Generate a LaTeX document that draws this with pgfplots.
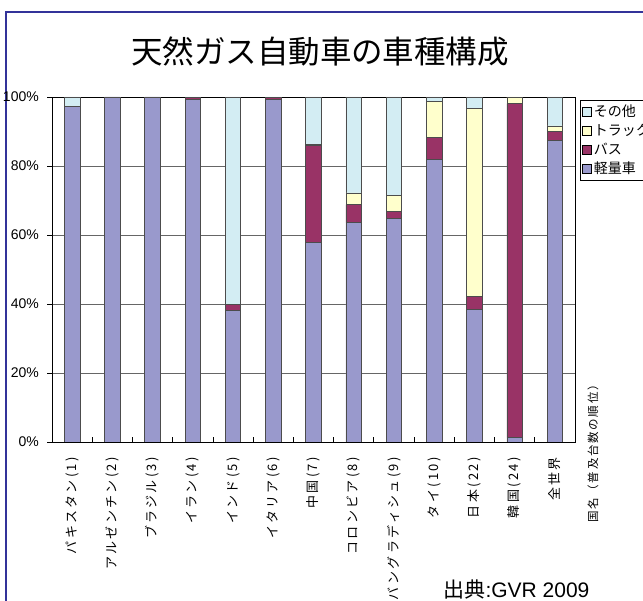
\documentclass[border=0pt]{standalone}
\usepackage{pgfplots}
\pgfplotsset{compat=1.18}
\usepackage{fontspec}
\setmainfont{Noto Sans CJK JP}
\newfontfamily\lat{Liberation Sans}
\newfontfamily\spaced[LetterSpace=15]{Noto Sans CJK JP}
\newfontfamily\spacedx[LetterSpace=18]{Noto Sans CJK JP}
\definecolor{frame}{HTML}{333399}
\definecolor{cLight}{HTML}{9999CC}
\definecolor{cBus}{HTML}{993366}
\definecolor{cTruck}{HTML}{FFFFCC}
\definecolor{cOther}{HTML}{D3EDF3}
\pgfplotstableread{
x light bus truck other
0 97.3 0 0 2.7
1 100 0 0 0
2 100 0 0 0
3 99.3 0.5 0 0.2
4 38.2 1.6 0 60.2
5 99.2 0.6 0 0.2
6 57.8 28.2 0.3 13.7
7 63.6 5.2 3.4 27.8
8 64.8 2.0 4.6 28.6
9 81.8 6.6 10.3 1.3
10 38.4 3.9 54.4 3.3
11 1.3 96.8 1.9 0
12 87.4 2.6 1.6 8.4
}\datatable
\begin{document}
\begin{tikzpicture}[x=1pt,y=1pt]
\useasboundingbox (0,0) rectangle (643,601);
\fill[white] (0,0) rectangle (643,601);
\draw[color=frame, line width=2.5pt] (6,-5) -- (6,589) -- (650,589);
\node at (320,549) {\fontsize{31.5}{34}\selectfont 天然ガス自動車の車種構成};
\node[rotate=90] at (593,150) {\spaced\fontsize{11.5}{13}\selectfont 国名（普及台数の順位）};
\node[anchor=west] at (440,11) {\fontsize{21}{24}\selectfont 出典{\lat:GVR 2009}};
\begin{axis}[
  at={(52pt,159pt)}, anchor=south west,
  scale only axis, width=523pt, height=345pt,
  ybar stacked, bar width=15.5pt,
  xmin=-0.5, xmax=12.5, ymin=0, ymax=100,
  axis line style={black, line width=0.8pt},
  xtick={0,...,12},
  minor xtick={0.5,1.5,...,11.5},
  xticklabels={パキスタン(1),アルゼンチン(2),ブラジル(3),イラン(4),インド(5),イタリア(6),中国(7),コロンビア(8),バングラディシュ(9),タイ(10),日本(22),韓国(24),全世界},
  xticklabel style={rotate=90, anchor=east, inner sep=0pt, font=\spacedx\fontsize{13}{15}\selectfont},
  xticklabel shift=15pt,
  ytick={0,20,40,60,80,100},
  yticklabels={0\%,20\%,40\%,60\%,80\%,100\%},
  yticklabel style={inner sep=0pt, font=\lat\fontsize{14}{16}\selectfont},
  yticklabel shift=13pt,
  tick align=inside,
  xtick pos=left, ytick pos=left,
  major tick length=5pt, minor tick length=5pt,
  major x tick style={draw=none},
  minor x tick style={black, line width=0.8pt},
  major y tick style={black, line width=0.8pt, xshift=-5pt},
  ymajorgrids,
  major grid style={black!60, line width=0.8pt},
  reverse legend,
  legend style={at={(1,1)}, anchor=north west, xshift=5pt, yshift=-3pt,
    draw=black, line width=0.6pt, font=\fontsize{14}{16}\selectfont,
    inner xsep=2pt, inner ysep=2pt, row sep=0pt,
    cells={anchor=west, minimum height=19pt, inner ysep=0pt}},
  legend image code/.code={\draw[#1, draw=black, line width=0.5pt] (0pt,-4.5pt) rectangle (9pt,4.5pt);},
  every axis plot/.append style={draw=black!70, line width=0.7pt},
]
\addplot[fill=cLight] table[x=x,y=light] {\datatable};
\addplot[fill=cBus] table[x=x,y=bus] {\datatable};
\addplot[fill=cTruck] table[x=x,y=truck] {\datatable};
\addplot[fill=cOther] table[x=x,y=other] {\datatable};
\legend{軽量車,バス,トラック,その他}
\end{axis}
\end{tikzpicture}
\end{document}
